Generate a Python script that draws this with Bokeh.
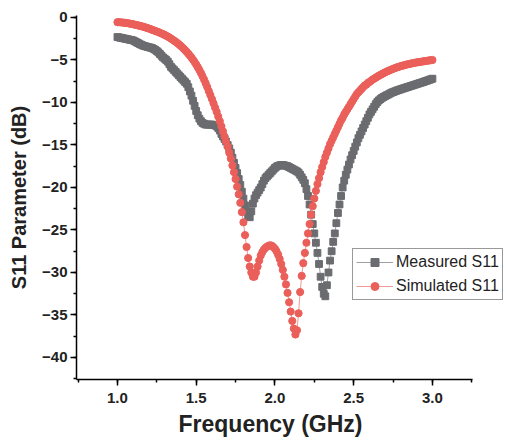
from bokeh.plotting import figure
from bokeh.models import SingleIntervalTicker, Range1d, ColumnDataSource, NumeralTickFormatter, Title
from bokeh.embed import file_html
from bokeh.resources import INLINE

# measurement grid (GHz)
freq_ghz = [round(1.0 + 0.01 * i, 2) for i in range(201)]

s11_measured = [
    -2.30, -2.34, -2.38, -2.42, -2.46, -2.50, -2.54, -2.58, -2.62, -2.66,
    -2.70, -2.80, -2.90, -3.00, -3.10, -3.20, -3.28, -3.35, -3.40, -3.45,
    -3.50, -3.55, -3.60, -3.70, -3.80, -3.95, -4.10, -4.30, -4.50, -4.70,
    -4.85, -5.00, -5.20, -5.50, -5.80, -6.00, -6.20, -6.40, -6.60, -6.80,
    -7.00, -7.20, -7.40, -7.60, -7.80, -8.20, -8.70, -9.20, -9.80, -10.40,
    -11.00, -11.50, -11.90, -12.20, -12.40, -12.50, -12.60, -12.60, -12.60, -12.60,
    -12.60, -12.65, -12.70, -12.80, -13.00, -13.30, -13.70, -14.00, -14.30, -14.60,
    -15.00, -15.40, -15.90, -16.50, -17.10, -17.70, -18.30, -19.00, -19.70, -20.50,
    -21.30, -22.10, -22.80, -23.40, -23.50, -22.80, -21.90, -21.30, -20.90, -20.60,
    -20.30, -20.00, -19.60, -19.20, -18.90, -18.70, -18.50, -18.30, -18.10, -17.90,
    -17.70, -17.55, -17.45, -17.40, -17.35, -17.35, -17.40, -17.45, -17.50, -17.60,
    -17.70, -17.80, -17.90, -18.00, -18.10, -18.25, -18.50, -18.80, -19.10, -19.50,
    -20.20, -21.00, -22.00, -23.20, -24.30, -25.40, -26.50, -27.70, -29.00, -30.50,
    -31.70, -32.50, -32.80, -31.50, -30.00, -28.60, -27.50, -26.40, -25.40, -24.20,
    -23.00, -22.00, -21.00, -20.00, -19.20, -18.50, -17.90, -17.30, -16.70, -16.20,
    -15.70, -15.20, -14.70, -14.20, -13.80, -13.40, -13.00, -12.60, -12.20, -11.80,
    -11.40, -11.10, -10.80, -10.50, -10.20, -9.95, -9.75, -9.60, -9.45, -9.35,
    -9.25, -9.15, -9.05, -8.95, -8.85, -8.78, -8.70, -8.63, -8.56, -8.50,
    -8.44, -8.38, -8.32, -8.26, -8.20, -8.14, -8.08, -8.02, -7.96, -7.90,
    -7.84, -7.78, -7.72, -7.66, -7.60, -7.53, -7.46, -7.40, -7.33, -7.27,
    -7.20,
]

s11_simulated = [
    -0.55, -0.56, -0.57, -0.59, -0.61, -0.63, -0.66, -0.69, -0.72, -0.76,
    -0.80, -0.84, -0.88, -0.92, -0.97, -1.02, -1.07, -1.12, -1.18, -1.24,
    -1.30, -1.37, -1.44, -1.51, -1.58, -1.65, -1.72, -1.80, -1.88, -1.96,
    -2.05, -2.15, -2.25, -2.36, -2.48, -2.60, -2.73, -2.86, -3.00, -3.15,
    -3.31, -3.48, -3.66, -3.85, -4.05, -4.26, -4.48, -4.72, -4.97, -5.24,
    -5.53, -5.84, -6.17, -6.52, -6.90, -7.30, -7.73, -8.18, -8.66, -9.13,
    -9.60, -10.10, -10.60, -11.10, -11.65, -12.20, -12.80, -13.40, -14.00, -14.60,
    -15.20, -15.90, -16.60, -17.40, -18.20, -19.00, -19.90, -20.80, -21.80, -22.90,
    -24.10, -25.60, -27.00, -28.30, -29.30, -30.00, -30.50, -30.50, -30.00, -29.30,
    -28.60, -28.00, -27.60, -27.30, -27.10, -26.95, -26.85, -26.80, -26.85, -27.00,
    -27.20, -27.50, -27.90, -28.40, -29.00, -29.70, -30.50, -31.40, -32.40, -33.50,
    -34.60, -35.70, -36.60, -37.30, -36.80, -34.80, -32.30, -30.40, -28.90, -27.70,
    -26.50, -25.40, -24.30, -23.20, -22.20, -21.30, -20.40, -19.60, -18.90, -18.20,
    -17.60, -17.00, -16.40, -15.90, -15.40, -14.90, -14.50, -14.10, -13.70, -13.30,
    -12.90, -12.50, -12.10, -11.80, -11.40, -11.10, -10.80, -10.50, -10.20, -9.90,
    -9.60, -9.30, -9.00, -8.80, -8.60, -8.40, -8.20, -8.00, -7.90, -7.70,
    -7.60, -7.45, -7.30, -7.20, -7.08, -6.96, -6.85, -6.75, -6.65, -6.55,
    -6.45, -6.36, -6.28, -6.20, -6.12, -6.04, -5.97, -5.90, -5.84, -5.78,
    -5.72, -5.67, -5.62, -5.57, -5.52, -5.48, -5.44, -5.40, -5.36, -5.32,
    -5.29, -5.26, -5.23, -5.20, -5.17, -5.14, -5.11, -5.08, -5.05, -5.03,
    -5.00,
]

series_labels = ["Measured S11", "Simulated S11"]
x_title = "Frequency (GHz)"
y_title = "S11 Parameter (dB)"
x_axis_bounds = (0.74, 3.254)

FONT = "Liberation Sans"
GRAY = "#6B6C70"
GRAY_LINE = "#A0A0A3"
RED = "#EB5F5A"
RED_LINE = "#F29A96"

src = ColumnDataSource(dict(f=freq_ghz, m=s11_measured, s=s11_simulated))

# frame runs to the right edge so the legend can overhang the axis end
p = figure(width=507, height=448,
           x_range=Range1d(0.74, 3.464), y_range=Range1d(-42.59, 0.235),
           output_backend="svg", toolbar_location=None,
           min_border_left=76, min_border_right=2,
           min_border_top=15, min_border_bottom=69)
p.xgrid.visible = False
p.ygrid.visible = False
p.outline_line_color = None
p.background_fill_color = "white"
p.border_fill_color = "white"

p.line("f", "m", source=src, line_color=GRAY_LINE, line_width=1, legend_label=series_labels[0])
p.scatter("f", "m", source=src, marker="square", size=6.8, fill_color=GRAY, line_color=GRAY,
          legend_label=series_labels[0])
p.line("f", "s", source=src, line_color=RED_LINE, line_width=1, legend_label=series_labels[1])
p.scatter("f", "s", source=src, marker="circle", size=7.2, fill_color=RED, line_color=RED,
          legend_label=series_labels[1])

p.xaxis.ticker = SingleIntervalTicker(interval=0.5, num_minor_ticks=2)
p.yaxis.ticker = SingleIntervalTicker(interval=5, num_minor_ticks=2)
p.xaxis.formatter = NumeralTickFormatter(format="0.0")
p.xaxis.bounds = x_axis_bounds

for ax in (p.xaxis, p.yaxis):
    ax.axis_line_color = "black"
    ax.axis_line_width = 1.5
    ax.major_tick_line_color = "black"
    ax.major_tick_line_width = 1.5
    ax.minor_tick_line_color = "black"
    ax.minor_tick_line_width = 1.5
    ax.major_tick_in = 0
    ax.major_tick_out = 6
    ax.minor_tick_in = 0
    ax.minor_tick_out = 3
    ax.major_label_text_font = FONT
    ax.major_label_text_font_style = "bold"
    ax.major_label_text_font_size = "15px"
    ax.major_label_text_color = "#222222"
    ax.axis_label_text_font = FONT
    ax.axis_label_text_font_style = "bold"
    ax.axis_label_text_color = "#222222"

p.yaxis.axis_label = y_title
p.yaxis.axis_label_text_font_size = "20px"
p.xaxis.major_label_standoff = 7
p.yaxis.major_label_standoff = 3
p.yaxis.axis_label_standoff = 9

# x-axis title centred under the axis line (not under the widened frame)
xt = Title(text=x_title, align="left", offset=102, standoff=6,
           text_font=FONT, text_font_style="bold", text_font_size="23px",
           text_color="#222222")
p.add_layout(xt, "below")

lg = p.legend[0]
lg.location = (276, 79)
lg.border_line_color = "#333333"
lg.border_line_width = 1
lg.background_fill_color = "white"
lg.background_fill_alpha = 1
lg.label_text_font = FONT
lg.label_text_font_size = "16px"
lg.label_text_color = "#222222"
lg.glyph_width = 37
lg.glyph_height = 20
lg.label_height = 20
lg.label_standoff = 3
lg.spacing = 4
lg.padding = 3
lg.margin = 0

open("out.html", "w").write(file_html(p, INLINE))
